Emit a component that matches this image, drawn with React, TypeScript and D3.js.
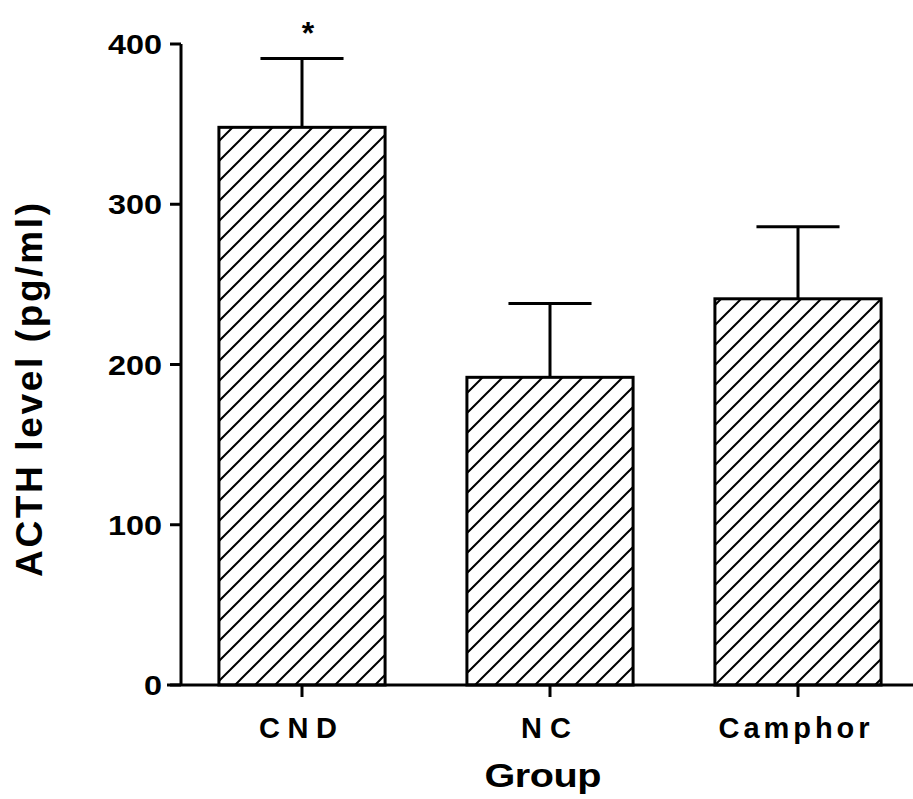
import React from "react";
import * as d3 from "d3";

const groups = ["CND", "NC", "Camphor"];
const means = [348, 192, 241];
const errors = [43, 46, 45];
const significant = [true, false, false];
const yTicks = [0, 100, 200, 300, 400];
const labelWidths = [78, 50, 151];

// the scanned digits are a wide Helvetica; stretch Liberation Sans to match
const stretch = 1.2;

const Chart = () => {
  const width = 913;
  const height = 799;
  const axisX = 181;
  const font = "'Liberation Sans', Arial, Helvetica, sans-serif";

  const yScale = d3.scaleLinear().domain([0, 400]).range([685, 44]);
  const xScale = d3
    .scaleBand()
    .domain(groups)
    .range([178, 922])
    .paddingInner(0.33)
    .paddingOuter(0.165);

  const baseY = yScale(0);
  const capHalf = xScale.bandwidth() / 4;

  return (
    <svg
      width={width}
      height={height}
      style={{ position: "absolute", left: 0, top: 0, background: "#fff" }}
    >
      <defs>
        <pattern
          id="hatch"
          patternUnits="userSpaceOnUse"
          width={20}
          height={20}
        >
          <path
            d="M-5,5 L5,-5 M0,20 L20,0 M15,25 L25,15"
            stroke="#000"
            strokeWidth={2}
          />
        </pattern>
      </defs>

      {/* bars */}
      <g>
        {groups.map((g, i) => {
          const x = xScale(g) as number;
          const cx = x + xScale.bandwidth() / 2;
          const top = yScale(means[i]);
          const errTop = yScale(means[i] + errors[i]);
          return (
            <g key={g}>
              <line x1={cx} x2={cx} y1={top} y2={errTop} stroke="#000" strokeWidth={3} />
              <line
                x1={cx - capHalf}
                x2={cx + capHalf}
                y1={errTop}
                y2={errTop}
                stroke="#000"
                strokeWidth={3}
              />
              <rect
                x={x}
                y={top}
                width={xScale.bandwidth()}
                height={baseY - top}
                fill="url(#hatch)"
                stroke="#000"
                strokeWidth={3}
              />
              {significant[i] && (
                <text
                  x={cx + 6}
                  y={errTop - 14}
                  textAnchor="middle"
                  fontFamily={font}
                  fontWeight="bold"
                  fontSize={32}
                >
                  *
                </text>
              )}
            </g>
          );
        })}
      </g>

      {/* y axis */}
      <g>
        <line x1={axisX} x2={axisX} y1={yScale(400)} y2={baseY} stroke="#000" strokeWidth={3} />
        {yTicks.map((t) => (
          <g key={t}>
            <line
              x1={axisX - 11}
              x2={axisX}
              y1={yScale(t)}
              y2={yScale(t)}
              stroke="#000"
              strokeWidth={3}
            />
            <text
              transform={`translate(${axisX - 19},${yScale(t) + 10}) scale(${stretch},1)`}
              textAnchor="end"
              fontFamily={font}
              fontWeight="bold"
              fontSize={27}
            >
              {t}
            </text>
          </g>
        ))}
        <text
          transform="translate(42,390) rotate(-90)"
          textAnchor="middle"
          fontFamily={font}
          fontWeight="bold"
          fontSize={37}
          textLength={374}
          lengthAdjust="spacing"
        >
          ACTH level (pg/ml)
        </text>
      </g>

      {/* x axis */}
      <g>
        <line x1={167} x2={913} y1={baseY} y2={baseY} stroke="#000" strokeWidth={3} />
        {groups.map((g, i) => {
          const cx = (xScale(g) as number) + xScale.bandwidth() / 2;
          return (
            <g key={g}>
              <line x1={cx} x2={cx} y1={baseY} y2={baseY + 12} stroke="#000" strokeWidth={3} />
              <text
                x={cx - 4}
                y={738}
                textAnchor="middle"
                fontFamily={font}
                fontWeight="bold"
                fontSize={29}
                textLength={labelWidths[i]}
                lengthAdjust="spacing"
              >
                {g}
              </text>
            </g>
          );
        })}
        <text
          transform={`translate(543,787) scale(${stretch},1)`}
          textAnchor="middle"
          fontFamily={font}
          fontWeight="bold"
          fontSize={33}
          textLength={117 / stretch}
          lengthAdjust="spacing"
        >
          Group
        </text>
      </g>
    </svg>
  );
};

export default function App() {
  return <Chart />;
}
